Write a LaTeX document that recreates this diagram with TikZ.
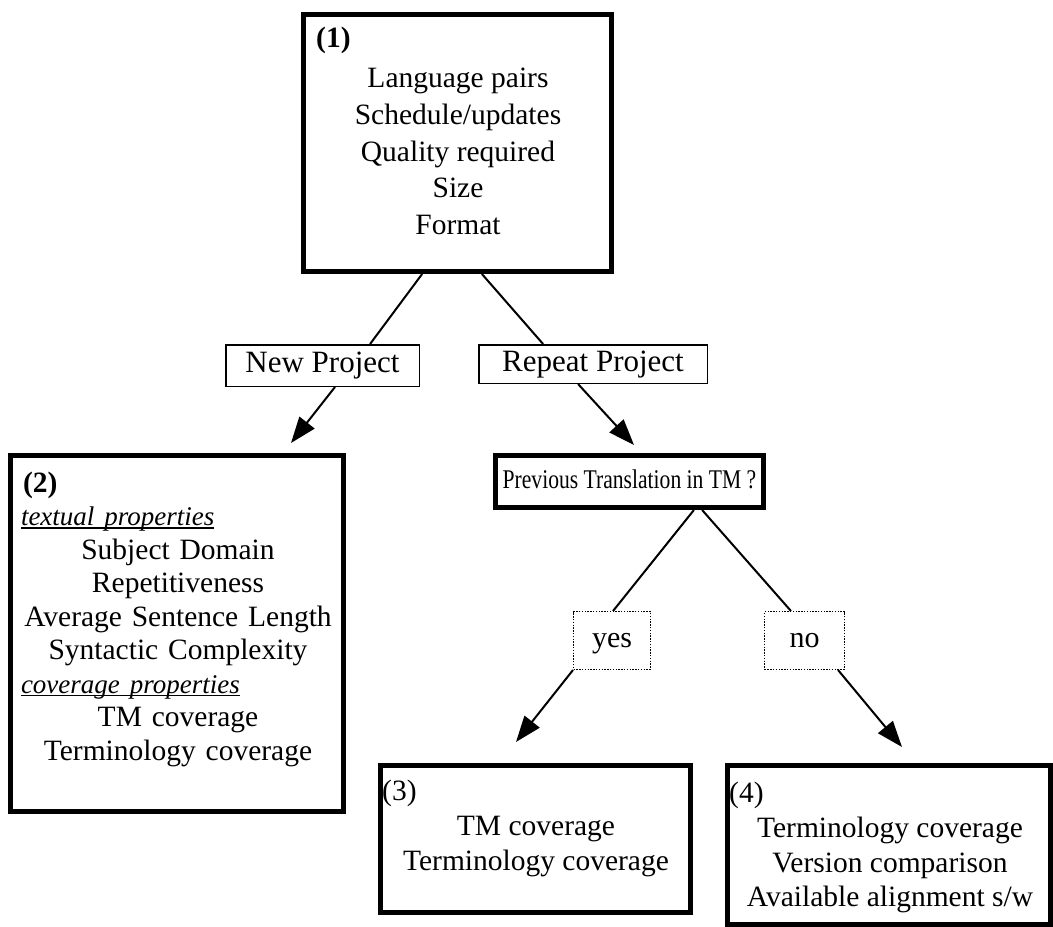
\documentclass[tikz,border=0pt]{standalone}
\usepackage{fontspec}
\setmainfont{Liberation Serif}
\usetikzlibrary{calc,arrows.meta}
\newcommand{\ulin}[1]{\setbox0\hbox{#1}\rlap{\rule[-3pt]{\wd0}{1.3pt}}\box0}
\begin{document}
\begin{tikzpicture}[x=1pt,y=-1pt,
  bigbox/.style={draw, line width=5pt, inner sep=0pt},
  tagbox/.style={draw, line width=1.5pt, inner sep=0pt, text height=21pt, text depth=7pt, font=\fontsize{31}{36}\selectfont},
  dotbox/.style={draw, line width=1.3pt, dash pattern=on 1.4pt off 1.4pt, inner sep=0pt, text height=20pt, text depth=6pt, font=\fontsize{30}{36}\selectfont},
  conn/.style={line width=2pt},
  arr/.style={line width=2pt, -{Triangle[length=26pt,width=19pt]}},
  bodytext/.style={inner sep=0pt, align=center},
  numlabel/.style={inner sep=0pt, anchor=base west, font=\fontsize{29.5}{34}\selectfont},
]
\useasboundingbox (0,0) rectangle (1053,927);

% box 1
\node[bigbox, minimum width=308pt, minimum height=257pt] (b1) at (457.5,143) {};
\node[numlabel, font=\bfseries\fontsize{29.5}{34}\selectfont] (b1n) at (316,47) {(1)};
\node[bodytext, anchor=north, font=\fontsize{29.5}{36.75}\selectfont] (b1t) at (458,68)
  {Language pairs\\Schedule/updates\\Quality required\\Size\\Format};

% labels
\node[tagbox, minimum width=193.5pt, minimum height=41.5pt] (np) at (322.5,365.5) {New Project};
\node[tagbox, minimum width=228.5pt, minimum height=38.5pt] (rp) at (593,364) {Repeat Project};

% box 2
\node[bigbox, minimum width=333pt, minimum height=356pt] (b2) at (177,633.5) {};
\node[bodytext, anchor=north, text width=322pt, font=\fontsize{29.5}{33.5}\selectfont] (b2t) at (178,471.5)
  {\makebox[\linewidth][l]{\hspace{6pt}\textbf{(2)}}\\
   \makebox[\linewidth][l]{\hspace{4pt}{\fontsize{27}{33.5}\selectfont\itshape\ulin{textual properties}}}\\
   Subject Domain\\
   Repetitiveness\\
   Average Sentence Length\\
   Syntactic Complexity\\
   \makebox[\linewidth][l]{\hspace{4pt}{\fontsize{27}{33.5}\selectfont\itshape\ulin{coverage properties}}}\\
   TM coverage\\
   Terminology coverage};

% previous translation box
\node[bigbox, minimum width=268pt, minimum height=52pt, text height=19pt, text depth=5pt, font=\fontsize{27}{30}\selectfont] (pv) at (629.5,481.5)
  {\scalebox{0.8}[1]{Previous Translation in TM ?}};

% yes / no
\node[dotbox, minimum width=76.7pt, minimum height=57.7pt] (yes) at (612,640.5) {yes};
\node[dotbox, minimum width=79.7pt, minimum height=57.7pt] (no) at (804.5,640.5) {no};

% box 3
\node[bigbox, minimum width=310pt, minimum height=147pt] (b3) at (535.5,839) {};
\node[numlabel] (b3n) at (382,800) {(3)};
\node[bodytext, anchor=north, font=\fontsize{29.5}{35}\selectfont] (b3t) at (536,816)
  {TM coverage\\Terminology coverage};

% box 4
\node[bigbox, minimum width=323pt, minimum height=159pt] (b4) at (889,845) {};
\node[numlabel] (b4n) at (729,802) {(4)};
\node[bodytext, anchor=north, font=\fontsize{29.5}{34.5}\selectfont] (b4t) at (890,817)
  {Terminology coverage\\Version comparison\\Available alignment s/w};

% arrow tips (free ends)
\coordinate (t2) at (291,443);
\coordinate (tp) at (634,445);
\coordinate (t3) at (516,742);
\coordinate (t4) at (902,747);

% connectors
\draw[conn] ($(b1.south west)!0.387!(b1.south east)$) -- ($(np.north west)!0.744!(np.north east)$);
\draw[conn] ($(b1.south west)!0.578!(b1.south east)$) -- ($(rp.north west)!0.283!(rp.north east)$);
\draw[arr] ($(np.south west)!0.564!(np.south east)$) -- (t2);
\draw[arr] ($(rp.south west)!0.435!(rp.south east)$) -- (tp);
\draw[conn] ($(pv.south west)!0.736!(pv.south east)$) -- ($(yes.north west)!0.513!(yes.north east)$);
\draw[conn] ($(pv.south west)!0.766!(pv.south east)$) -- ($(no.north west)!0.333!(no.north east)$);
\draw[arr] (yes.south west) -- (t3);
\draw[arr] ($(no.south west)!0.914!(no.south east)$) -- (t4);
\end{tikzpicture}
\end{document}
